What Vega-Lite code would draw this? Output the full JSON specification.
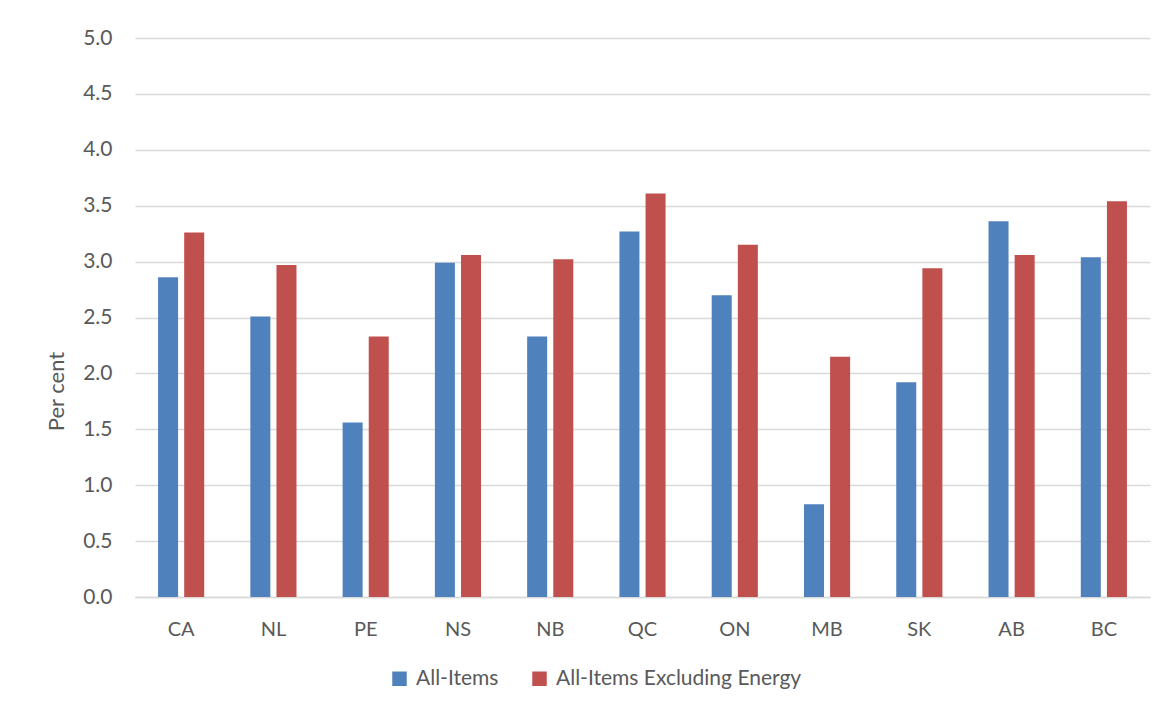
{
  "$schema": "https://vega.github.io/schema/vega-lite/v6.json",
  "width": 1015,
  "height": 559,
  "autosize": {"type": "none"},
  "padding": {"left": 135, "top": 38, "right": 22, "bottom": 114},
  "background": "white",
  "config": {
    "font": "Lato",
    "view": {"stroke": null},
    "axis": {"labelColor": "#595959", "titleColor": "#595959", "labelFont": "Lato", "titleFont": "Lato"}
  },
  "data": {
    "values": [
      {"region": "CA", "series": "All-Items", "value": 2.86},
      {"region": "CA", "series": "All-Items Excluding Energy", "value": 3.26},
      {"region": "NL", "series": "All-Items", "value": 2.51},
      {"region": "NL", "series": "All-Items Excluding Energy", "value": 2.97},
      {"region": "PE", "series": "All-Items", "value": 1.56},
      {"region": "PE", "series": "All-Items Excluding Energy", "value": 2.33},
      {"region": "NS", "series": "All-Items", "value": 2.99},
      {"region": "NS", "series": "All-Items Excluding Energy", "value": 3.06},
      {"region": "NB", "series": "All-Items", "value": 2.33},
      {"region": "NB", "series": "All-Items Excluding Energy", "value": 3.02},
      {"region": "QC", "series": "All-Items", "value": 3.27},
      {"region": "QC", "series": "All-Items Excluding Energy", "value": 3.61},
      {"region": "ON", "series": "All-Items", "value": 2.70},
      {"region": "ON", "series": "All-Items Excluding Energy", "value": 3.15},
      {"region": "MB", "series": "All-Items", "value": 0.83},
      {"region": "MB", "series": "All-Items Excluding Energy", "value": 2.15},
      {"region": "SK", "series": "All-Items", "value": 1.92},
      {"region": "SK", "series": "All-Items Excluding Energy", "value": 2.94},
      {"region": "AB", "series": "All-Items", "value": 3.36},
      {"region": "AB", "series": "All-Items Excluding Energy", "value": 3.06},
      {"region": "BC", "series": "All-Items", "value": 3.04},
      {"region": "BC", "series": "All-Items Excluding Energy", "value": 3.54}
    ]
  },
  "mark": {"type": "bar"},
  "encoding": {
    "x": {
      "field": "region",
      "type": "nominal",
      "sort": null,
      "scale": {"paddingInner": 0.5, "paddingOuter": 0.25},
      "axis": {
        "title": null,
        "labelAngle": 0,
        "labelFontSize": 20,
        "labelPadding": 22,
        "ticks": false,
        "domainColor": "#d9d9d9",
        "domainWidth": 1.5,
        "grid": false
      }
    },
    "xOffset": {
      "field": "series",
      "type": "nominal",
      "scale": {"paddingInner": 0.234, "paddingOuter": 0}
    },
    "y": {
      "field": "value",
      "type": "quantitative",
      "scale": {"domain": [0, 5], "nice": false},
      "axis": {
        "title": "Per cent",
        "titleFontSize": 22,
        "titleFontWeight": "normal",
        "titleX": -79,
        "titleY": 353,
        "titleAngle": 270,
        "titleBaseline": "middle",
        "titleAlign": "center",
        "labelFontSize": 21,
        "labelPadding": 23,
        "values": [0, 0.5, 1, 1.5, 2, 2.5, 3, 3.5, 4, 4.5, 5],
        "format": ".1f",
        "ticks": false,
        "domain": false,
        "grid": true,
        "gridColor": "#d9d9d9",
        "gridWidth": 1.5
      }
    },
    "color": {
      "field": "series",
      "type": "nominal",
      "scale": {"domain": ["All-Items", "All-Items Excluding Energy"], "range": ["#4F81BD", "#C0504D"]},
      "legend": {
        "title": null,
        "orient": "none",
        "direction": "horizontal",
        "legendX": 254,
        "legendY": 630,
        "symbolType": "square",
        "symbolSize": 210,
        "symbolStrokeWidth": 0,
        "labelFontSize": 21,
        "labelColor": "#595959",
        "labelFont": "Lato",
        "labelOffset": 6,
        "labelLimit": 500,
        "columnPadding": 30
      }
    }
  }
}
